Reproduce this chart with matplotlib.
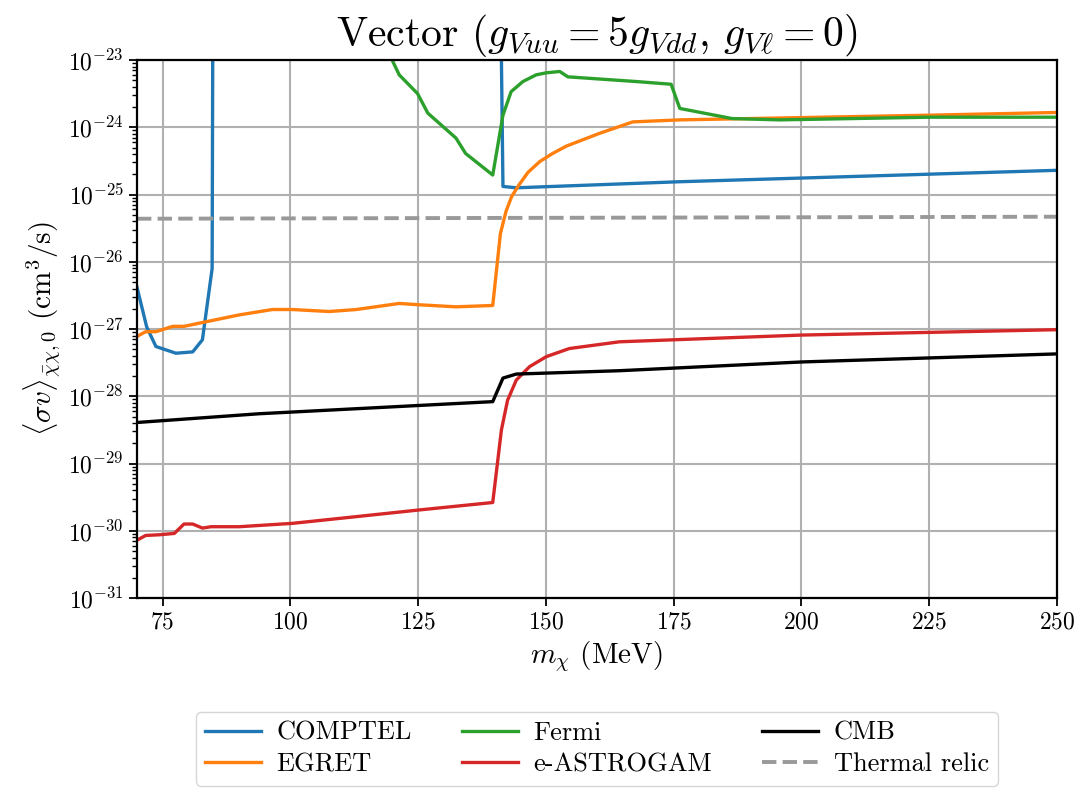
import numpy as np
import matplotlib
matplotlib.use('Agg')
import matplotlib.pyplot as plt

plt.rcParams['font.family'] = 'serif'
plt.rcParams['font.serif'] = ['cmr10']
plt.rcParams['mathtext.fontset'] = 'cm'
plt.rcParams['axes.formatter.use_mathtext'] = True

# data (log10 of <sigma v> in cm^3/s)
comptel_m = [70.0, 71.9, 73.7, 77.6, 80.9, 82.8, 84.7, 85.0, 140.5, 141.6, 144.2, 176.1, 250.0]
comptel_log = [-26.38, -26.97, -27.26, -27.36, -27.34, -27.16, -26.10, -18.0, -18.0, -24.88, -24.90, -24.81, -24.64]

egret_m = [70.0, 71.7, 73.7, 77.0, 79.2, 90.0, 96.5, 100.4, 107.6, 112.9, 121.3, 125.3, 132.4, 139.6,
           141.1, 142.2, 143.3, 144.8, 146.5, 148.8, 151.3, 154.0, 160.5, 167.0, 176.2, 225.1, 250.0]
egret_log = [-27.11, -27.04, -27.04, -26.96, -26.96, -26.79, -26.71, -26.71, -26.74, -26.71, -26.62, -26.64,
             -26.67, -26.65, -25.58, -25.25, -25.03, -24.85, -24.67, -24.51, -24.39, -24.28, -24.09, -23.92,
             -23.89, -23.82, -23.78]

fermi_m = [119.6, 121.3, 124.9, 126.9, 132.4, 134.3, 139.6, 141.6, 143.2, 145.5, 148.1, 150.1, 152.7,
           154.3, 167.7, 174.5, 176.2, 186.4, 195.7, 225.1, 250.0]
fermi_log = [-22.95, -23.22, -23.50, -23.79, -24.16, -24.39, -24.71, -23.82, -23.47, -23.32, -23.22, -23.19,
             -23.17, -23.25, -23.32, -23.36, -23.72, -23.87, -23.89, -23.85, -23.85]

astro_m = [70.0, 71.7, 74.3, 77.3, 79.2, 80.9, 82.8, 84.5, 90.0, 100.4, 112.9, 125.3, 139.6,
           141.3, 142.5, 144.2, 146.8, 150.1, 154.6, 164.4, 200.0, 250.0]
astro_log = [-30.14, -30.07, -30.06, -30.04, -29.90, -29.90, -29.96, -29.94, -29.94, -29.89, -29.79, -29.69,
             -29.58, -28.50, -28.06, -27.76, -27.56, -27.41, -27.29, -27.19, -27.09, -27.01]

cmb_m = [70.0, 93.9, 139.6, 141.6, 144.2, 164.4, 200.0, 250.0]
cmb_log = [-28.39, -28.26, -28.08, -27.73, -27.67, -27.62, -27.49, -27.37]

relic_m = [70.0, 250.0]
relic_log = [-25.36, -25.33]

fig = plt.figure(figsize=(10.83, 7.93), dpi=100)
ax = fig.add_axes([0.1265, 0.2459, 0.8495, 0.6784])

ax.plot(comptel_m, 10.0**np.array(comptel_log), color='C0', lw=2.4, label='COMPTEL')
ax.plot(egret_m, 10.0**np.array(egret_log), color='C1', lw=2.4, label='EGRET')
ax.plot(fermi_m, 10.0**np.array(fermi_log), color='C2', lw=2.4, label='Fermi')
ax.plot(astro_m, 10.0**np.array(astro_log), color='C3', lw=2.4, label='e-ASTROGAM')
ax.plot(cmb_m, 10.0**np.array(cmb_log), color='k', lw=2.4, label='CMB')
ax.plot(relic_m, 10.0**np.array(relic_log), color='#999999', lw=2.8, ls='--', label='Thermal relic')

ax.set_yscale('log')
ax.set_xlim(70, 250)
ax.set_ylim(1e-31, 1e-23)
ax.set_xticks([75, 100, 125, 150, 175, 200, 225, 250])
ax.set_yticks([10.0**k for k in range(-31, -22)])
ax.grid(True, which='major', color='#b0b0b0', lw=1.5)
ax.tick_params(labelsize=17, width=1.3, length=6)
ax.tick_params(which='minor', width=1.0, length=3.5)
for s in ax.spines.values():
    s.set_linewidth(1.6)

ax.set_xlabel(r'$m_\chi$ (MeV)', fontsize=21)
ax.set_ylabel(r'$\langle\sigma v\rangle_{\bar{\chi}\chi,0}$ (cm$^3$/s)', fontsize=21)
ax.set_title(r'Vector ($g_{Vuu} = 5 g_{Vdd}$, $g_{V\ell} = 0$)', fontsize=30, pad=10)

handles, labels = ax.get_legend_handles_labels()
ax.legend(handles, labels, loc='upper center', bbox_to_anchor=(0.5, -0.187), ncol=3,
          fontsize=19, frameon=True, fancybox=True, edgecolor='#cccccc',
          columnspacing=1.9, handlelength=2.1, handletextpad=0.6, borderpad=0.35,
          labelspacing=0.3)

fig.savefig('out.png', dpi=100)
